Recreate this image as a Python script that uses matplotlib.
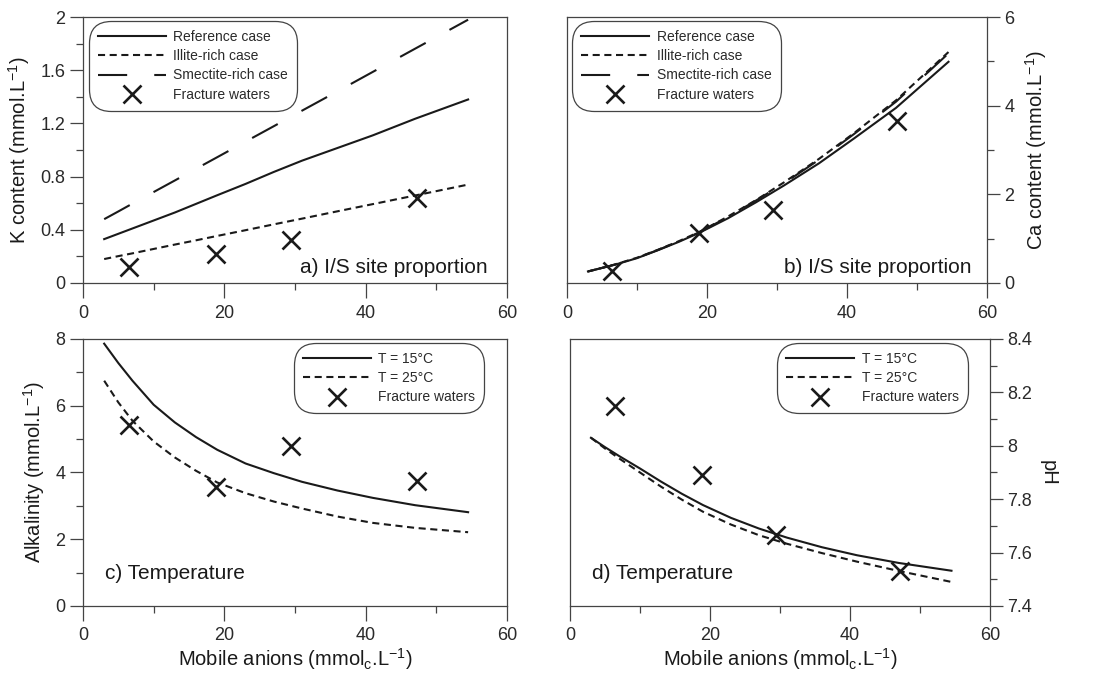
import matplotlib
matplotlib.use("Agg")
import matplotlib.pyplot as plt
from matplotlib.ticker import MultipleLocator, FuncFormatter
from matplotlib.lines import Line2D

plt.rcParams['font.family'] = ['Liberation Sans', 'DejaVu Sans']

# mobile anion concentrations of the fracture waters
anions = [6.5, 18.8, 29.5, 47.2]
k_water = [0.12, 0.22, 0.32, 0.64]
ca_water = [0.26, 1.13, 1.65, 3.66]
alk_water = [5.43, 3.55, 4.80, 3.73]
ph_water = [8.15, 7.89, 7.665, 7.53]

# model curves, computed on a common anion grid
anion_grid = [3, 5, 7, 10, 13, 16, 19, 23, 27, 31, 36, 41, 47, 54.5]

k_ref = [0.33, 0.37, 0.41, 0.47, 0.53, 0.595, 0.66, 0.745, 0.835, 0.92, 1.015, 1.11, 1.235, 1.38]
k_illite = [0.18, 0.202, 0.223, 0.256, 0.289, 0.321, 0.354, 0.397, 0.441, 0.484, 0.539, 0.593, 0.658, 0.74]
k_smectite = [0.48, 0.538, 0.597, 0.684, 0.771, 0.859, 0.946, 1.063, 1.179, 1.296, 1.441, 1.587, 1.762, 1.98]

ca_ref = [0.26, 0.34, 0.42, 0.56, 0.74, 0.93, 1.14, 1.46, 1.82, 2.20, 2.70, 3.26, 3.95, 4.99]
ca_illite = [0.26, 0.34, 0.425, 0.57, 0.75, 0.945, 1.16, 1.50, 1.87, 2.27, 2.80, 3.38, 4.12, 5.21]
ca_smectite = [0.26, 0.34, 0.42, 0.565, 0.745, 0.94, 1.15, 1.49, 1.86, 2.25, 2.78, 3.36, 4.09, 5.18]

alk_15 = [7.86, 7.28, 6.75, 6.03, 5.50, 5.06, 4.68, 4.27, 3.98, 3.72, 3.46, 3.24, 3.02, 2.81]
alk_25 = [6.75, 6.10, 5.55, 4.93, 4.45, 4.05, 3.70, 3.38, 3.13, 2.92, 2.68, 2.49, 2.34, 2.21]

ph_15 = [8.03, 7.995, 7.962, 7.915, 7.866, 7.82, 7.778, 7.73, 7.69, 7.656, 7.62, 7.59, 7.561, 7.532]
ph_25 = [8.03, 7.99, 7.953, 7.90, 7.847, 7.798, 7.753, 7.705, 7.665, 7.633, 7.598, 7.566, 7.531, 7.49]

INK = '#1a1a1a'
FRAME = '#444444'
LW = 1.5
SHORT = (0, (3.4, 2.2))
LONG = (0, (14, 13))
XLABEL = 'Mobile anions (mmol$_\\mathregular{c}$.L$^{\\mathregular{-1}}$)'

fig = plt.figure(figsize=(11.05, 6.73), dpi=100)
ax_a = fig.add_axes([0.0751, 0.5795, 0.3837, 0.3952])
ax_b = fig.add_axes([0.5131, 0.5795, 0.3801, 0.3952])
ax_c = fig.add_axes([0.0751, 0.0996, 0.3837, 0.3967])
ax_d = fig.add_axes([0.5158, 0.0996, 0.3801, 0.3967])

fmt = FuncFormatter(lambda v, p: '%g' % round(v, 3))


def style(ax, ymax, ymin, major, minor, right=False):
    ax.set_xlim(0, 60)
    ax.set_ylim(ymin, ymax)
    ax.xaxis.set_major_locator(MultipleLocator(20))
    ax.xaxis.set_minor_locator(MultipleLocator(10))
    ax.yaxis.set_major_locator(MultipleLocator(major))
    ax.yaxis.set_minor_locator(MultipleLocator(minor))
    ax.yaxis.set_major_formatter(fmt)
    for s in ax.spines.values():
        s.set_color(FRAME)
        s.set_linewidth(0.9)
    ax.tick_params(which='both', direction='out', color=FRAME, width=0.9,
                   labelsize=13, labelcolor='#2a2a2a')
    ax.tick_params(which='major', length=9.5, pad=3)
    ax.tick_params(which='minor', length=5)
    ax.tick_params(axis='x', which='major', length=10.5, pad=5)
    if right:
        ax.yaxis.tick_right()
        ax.yaxis.set_label_position('right')


def crosses(ax, y):
    ax.plot(anions, y, linestyle='none', marker='x', markersize=13,
            markeredgewidth=1.9, color=INK, zorder=5)


def add_legend(ax, handles, labels, loc, anchor):
    leg = ax.legend(handles, labels, loc=loc, bbox_to_anchor=anchor,
                    fontsize=10, handlelength=4.9, handletextpad=0.55,
                    borderpad=0.45, labelspacing=0.38, borderaxespad=0,
                    fancybox=True, framealpha=1, edgecolor=FRAME)
    leg.get_frame().set_linewidth(0.9)
    leg.get_frame().set_boxstyle('round', pad=0.2, rounding_size=1.6)
    for t in leg.get_texts():
        t.set_color('#2a2a2a')


x_handle = Line2D([], [], linestyle='none', marker='x', markersize=13,
                  markeredgewidth=1.9, color=INK)

# a) K content
style(ax_a, 2, 0, 0.4, 0.2)
h1, = ax_a.plot(anion_grid, k_ref, color=INK, lw=LW)
h2, = ax_a.plot(anion_grid, k_illite, color=INK, lw=LW, linestyle=SHORT)
h3, = ax_a.plot(anion_grid, k_smectite, color=INK, lw=LW, linestyle=LONG)
crosses(ax_a, k_water)
ax_a.set_ylabel('K content (mmol.L$^{\\mathregular{-1}}$)', fontsize=14.5, color=INK, labelpad=6)
ax_a.text(0.955, 0.038, 'a) I/S site proportion', transform=ax_a.transAxes,
          ha='right', va='baseline', fontsize=15, color=INK)
add_legend(ax_a, [h1, h2, h3, x_handle],
           ['Reference case', 'Illite-rich case', 'Smectite-rich case', 'Fracture waters'],
           'upper left', (0.02, 0.975))

# b) Ca content
style(ax_b, 6, 0, 2, 1, right=True)
g1, = ax_b.plot(anion_grid, ca_ref, color=INK, lw=LW)
g2, = ax_b.plot(anion_grid, ca_illite, color=INK, lw=LW, linestyle=SHORT)
g3, = ax_b.plot(anion_grid, ca_smectite, color=INK, lw=LW, linestyle=LONG)
crosses(ax_b, ca_water)
ax_b.set_ylabel('Ca content (mmol.L$^{\\mathregular{-1}}$)', fontsize=14.5, color=INK,
                rotation=90, labelpad=6)
ax_b.text(0.964, 0.038, 'b) I/S site proportion', transform=ax_b.transAxes,
          ha='right', va='baseline', fontsize=15, color=INK)
add_legend(ax_b, [g1, g2, g3, x_handle],
           ['Reference case', 'Illite-rich case', 'Smectite-rich case', 'Fracture waters'],
           'upper left', (0.019, 0.975))

# c) Alkalinity
style(ax_c, 8, 0, 2, 1)
c1, = ax_c.plot(anion_grid, alk_15, color=INK, lw=LW)
c2, = ax_c.plot(anion_grid, alk_25, color=INK, lw=LW, linestyle=SHORT)
crosses(ax_c, alk_water)
ax_c.set_ylabel('Alkalinity (mmol.L$^{\\mathregular{-1}}$)', fontsize=14.5, color=INK, labelpad=6)
ax_c.set_xlabel(XLABEL, fontsize=14.5, color=INK, labelpad=1)
ax_c.text(0.052, 0.10, 'c) Temperature', transform=ax_c.transAxes,
          ha='left', va='baseline', fontsize=15, color=INK)
add_legend(ax_c, [c1, c2, x_handle], ['T = 15°C', 'T = 25°C', 'Fracture waters'],
           'upper right', (0.94, 0.975))

# d) pH
style(ax_d, 8.4, 7.4, 0.2, 0.1, right=True)
d1, = ax_d.plot(anion_grid, ph_15, color=INK, lw=LW)
d2, = ax_d.plot(anion_grid, ph_25, color=INK, lw=LW, linestyle=SHORT)
crosses(ax_d, ph_water)
ax_d.set_ylabel('pH', fontsize=14.5, color=INK, rotation=270, labelpad=18)
ax_d.set_xlabel(XLABEL, fontsize=14.5, color=INK, labelpad=1)
ax_d.text(0.052, 0.10, 'd) Temperature', transform=ax_d.transAxes,
          ha='left', va='baseline', fontsize=15, color=INK)
add_legend(ax_d, [d1, d2, x_handle], ['T = 15°C', 'T = 25°C', 'Fracture waters'],
           'upper right', (0.94, 0.975))

fig.savefig('out.png', dpi=100)
